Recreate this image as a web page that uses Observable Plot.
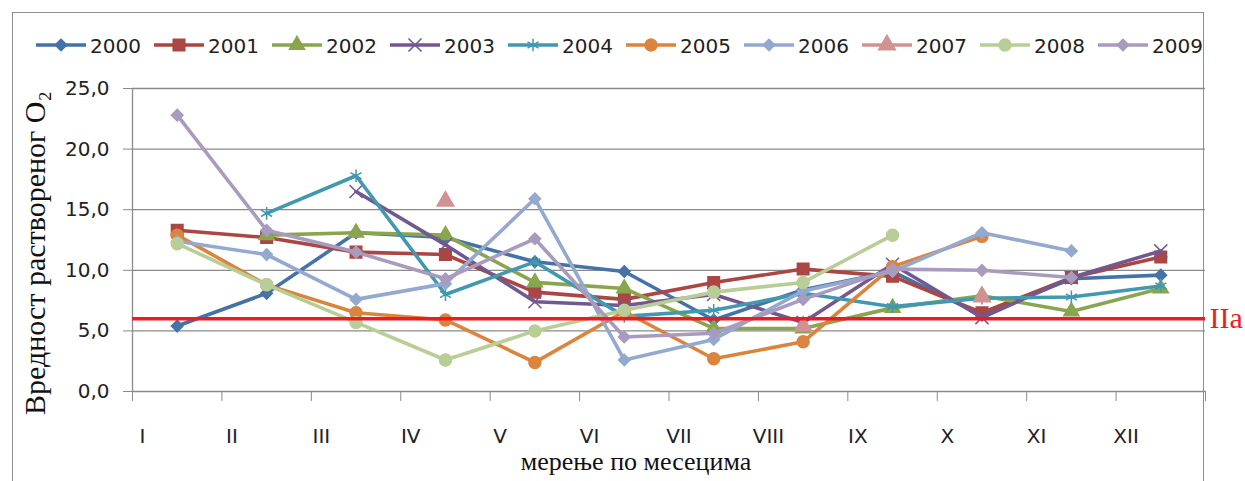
<!DOCTYPE html>
<html>
<head>
<meta charset="utf-8">
<script src="https://cdn.jsdelivr.net/npm/d3@7"></script>
<script src="https://cdn.jsdelivr.net/npm/@observablehq/plot@0.6"></script>
<style>
  html, body { margin: 0; padding: 0; background: #fff; }
  #wrap { position: relative; width: 1245px; height: 481px; overflow: hidden; }
  #frame { position: absolute; left: 12px; top: 12px; width: 1192px; height: 520px;
           border: 1.5px solid #8e8e8e; box-sizing: border-box; }
  #legend, #chart { position: absolute; left: 0; top: 0; }
</style>
</head>
<body>
<div id="wrap">
  <div id="frame"></div>
  <div id="chart"></div>
  <svg id="legend" width="1245" height="80"></svg>
</div>
<script>
// Months of measurement (Roman numerals)
const months = ["I", "II", "III", "IV", "V", "VI", "VII", "VIII", "IX", "X", "XI", "XII"];

// Dissolved oxygen values per year, one value per month (null = no measurement)
const o2_2000 = [5.4, 8.1, 13.1, 12.7, 10.7, 9.9, 5.9, 8.4, 9.9, 6.3, 9.3, 9.6];
const o2_2001 = [13.3, 12.7, 11.5, 11.3, 8.2, 7.6, 9.0, 10.1, 9.5, 6.5, 9.4, 11.1];
const o2_2002 = [null, 12.9, 13.1, 12.9, 9.0, 8.5, 5.2, 5.2, 6.9, 7.9, 6.6, 8.5];
const o2_2003 = [null, null, 16.5, 12.1, 7.4, 7.1, 8.0, 5.7, 10.5, 6.1, 9.4, 11.6];
const o2_2004 = [null, 14.7, 17.8, 8.0, 10.7, 6.2, 6.7, 8.1, 7.0, 7.7, 7.8, 8.7];
const o2_2005 = [12.9, 8.8, 6.5, 5.9, 2.4, 6.6, 2.7, 4.1, 10.3, 12.8, null, null];
const o2_2006 = [12.4, 11.3, 7.6, 8.9, 15.9, 2.6, 4.3, 8.3, 9.9, 13.1, 11.6, null];
const o2_2007 = [null, null, null, 15.7, null, null, null, 5.4, null, 7.8, null, null];
const o2_2008 = [12.2, 8.8, 5.7, 2.6, 5.0, 6.7, 8.2, 9.0, 12.9, null, null, null];
const o2_2009 = [22.8, 13.3, 11.5, 9.3, 12.6, 4.5, 4.8, 7.6, 10.1, 10.0, 9.4, null];

const years = ["2000", "2001", "2002", "2003", "2004", "2005", "2006", "2007", "2008", "2009"];
const values = [o2_2000, o2_2001, o2_2002, o2_2003, o2_2004, o2_2005, o2_2006, o2_2007, o2_2008, o2_2009];
const colors = ["#4572a7", "#aa4643", "#89a54e", "#71588f", "#4198af",
                "#db843d", "#93a9cf", "#d19392", "#b9cd96", "#a99bbd"];
const symbols = ["diamond2", "square", "triangle", "times", "asterisk",
                 "circle", "diamond2", "triangle", "circle", "diamond2"];
const sizes = [5.2, 6.5, 5.6, 6, 6, 6, 5.2, 6.2, 6, 5.2];

// Class IIa limit and axis texts
const limitIIa = 6.0;
const limitLabel = "IIa";
const yTicks = [0, 5, 10, 15, 20, 25];
const yTitle = "Вредност раствореног O₂";
const xTitle = "мерење по месецима";

const series = years.map((year, k) => ({
  year, color: colors[k], symbol: symbols[k], r: sizes[k],
  rows: values[k].map((v, i) => ({month: i + 0.5, v}))
}));

const seriesMarks = series.flatMap(s => [
  Plot.line(s.rows, {x: "month", y: "v", stroke: s.color, strokeWidth: 3.6,
                     strokeLinejoin: "round", strokeLinecap: "round"}),
  Plot.dot(s.rows.filter(d => d.v != null), {x: "month", y: "v", symbol: () => s.symbol,
                     r: s.r, fill: s.color, stroke: s.color, strokeWidth: 1.5})
]);

const chart = Plot.plot({
  width: 1245,
  height: 481,
  marginTop: 88,
  marginBottom: 90,
  marginLeft: 132,
  marginRight: 40,
  x: {domain: [0, months.length]},
  y: {domain: [0, 25]},
  symbol: {type: "identity"},
  style: {fontFamily: "DejaVu Sans", fontSize: "20px", color: "#222", background: "transparent"},
  marks: [
    Plot.gridY(yTicks, {stroke: "#8a8a8a", strokeOpacity: 1, strokeWidth: 1.3}),
    Plot.ruleX([0], {stroke: "#8a8a8a", strokeWidth: 1.3}),
    Plot.axisY({ticks: yTicks, tickSize: 9, tickPadding: 14, stroke: "#8a8a8a",
                tickFormat: d => d.toFixed(1).replace(".", ","), label: null}),
    Plot.axisX({ticks: d3.range(months.length + 1), tickSize: 10, stroke: "#8a8a8a",
                tickFormat: () => "", label: null}),
    Plot.axisX({ticks: d3.range(months.length), tickSize: 0, tickPadding: 37, dx: 10,
                tickFormat: i => months[i], label: null}),
    ...seriesMarks,
    Plot.ruleY([limitIIa], {stroke: "#ed1c24", strokeWidth: 3.5}),
    Plot.text([limitLabel], {x: months.length, y: limitIIa, dx: 4, textAnchor: "start",
                             fill: "#ed1c24", fontFamily: "Liberation Serif", fontSize: 30}),
    Plot.text([yTitle], {frameAnchor: "left", textAnchor: "middle", rotate: -90, dx: -97, dy: 13,
                         fontFamily: "Liberation Serif", fontSize: 30, fill: "#111"}),
    Plot.text([xTitle], {frameAnchor: "bottom", dx: -33, dy: 78,
                         fontFamily: "Liberation Serif", fontSize: 26, fill: "#111"})
  ]
});
document.getElementById("chart").appendChild(chart);

// Legend row: line segment with marker, then the year
const symbolTypes = {
  diamond2: d3.symbolDiamond2, square: d3.symbolSquare, triangle: d3.symbolTriangle,
  times: d3.symbolTimes, asterisk: d3.symbolAsterisk, circle: d3.symbolCircle
};
const legend = d3.select("#legend");
const item = legend.selectAll("g").data(series).join("g")
  .attr("transform", (d, i) => `translate(${36 + i * 118},45)`);
item.append("line").attr("x1", 0).attr("x2", 50)
  .attr("stroke", d => d.color).attr("stroke-width", 3.5);
item.append("path").attr("transform", "translate(25,0)")
  .attr("d", d => d3.symbol(symbolTypes[d.symbol], Math.PI * d.r * d.r)())
  .attr("fill", d => d.color).attr("stroke", d => d.color).attr("stroke-width", 1.5);
item.append("text").attr("x", 54).attr("y", 7.5)
  .attr("font-family", "DejaVu Sans").attr("font-size", 20).attr("fill", "#222")
  .text(d => d.year);
</script>
</body>
</html>
